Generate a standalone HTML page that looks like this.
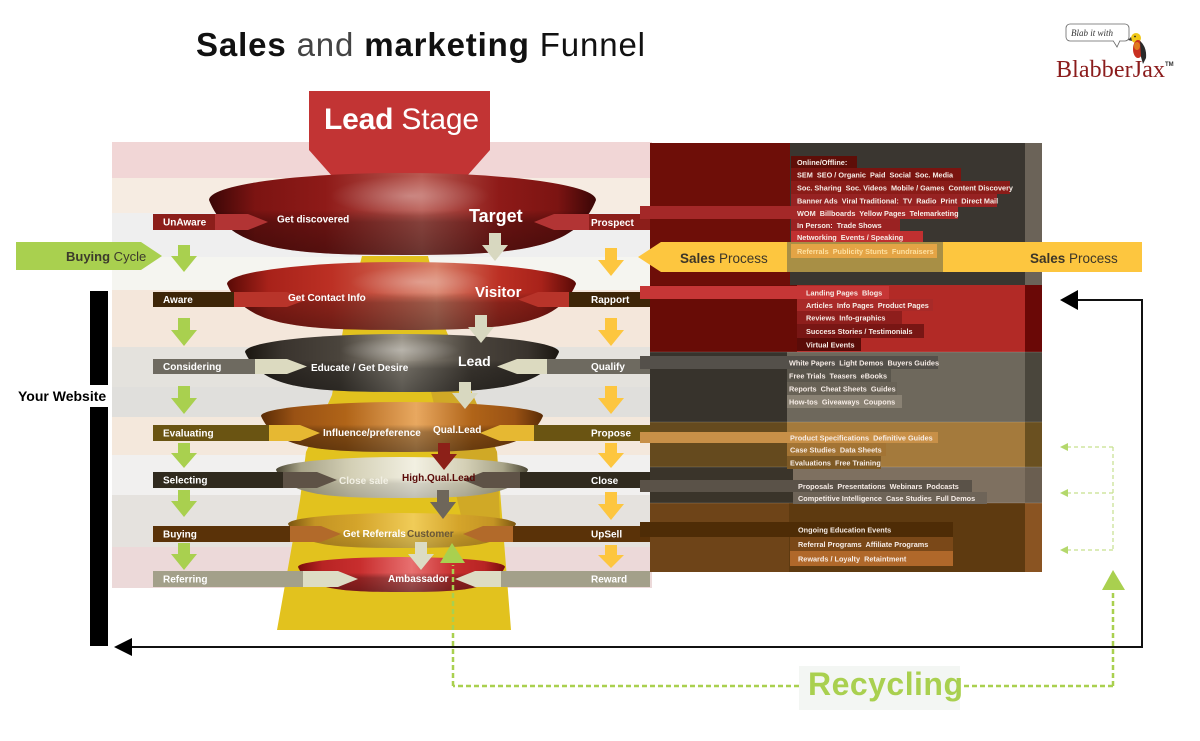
<!DOCTYPE html>
<html><head><meta charset="utf-8"><title>Sales and marketing Funnel</title>
<style>
html,body{margin:0;padding:0;background:#fff;}
svg{display:block;}
text{font-family:"Liberation Sans",Arial,sans-serif;}
.lb{font-size:10px;font-weight:bold;fill:#fff;}
.rp{font-size:7.3px;font-weight:bold;fill:#f6ece6;white-space:pre;}
</style></head><body>
<svg width="1200" height="741" viewBox="0 0 1200 741" xmlns="http://www.w3.org/2000/svg">
<defs>
<linearGradient id="g1" x1="0" x2="1" y1="0" y2="0"><stop offset="0" stop-color="#3a0606"/><stop offset="0.12" stop-color="#7c1412"/><stop offset="0.3" stop-color="#8e1a18"/><stop offset="0.55" stop-color="#b85a52"/><stop offset="0.75" stop-color="#8e1a18"/><stop offset="0.9" stop-color="#7c1412"/><stop offset="1" stop-color="#3a0606"/></linearGradient>
<linearGradient id="g2" x1="0" x2="1" y1="0" y2="0"><stop offset="0" stop-color="#5a0a06"/><stop offset="0.12" stop-color="#a8221a"/><stop offset="0.3" stop-color="#bc3024"/><stop offset="0.6" stop-color="#d88068"/><stop offset="0.78" stop-color="#bc3024"/><stop offset="0.9" stop-color="#a8221a"/><stop offset="1" stop-color="#5a0a06"/></linearGradient>
<linearGradient id="g3" x1="0" x2="1" y1="0" y2="0"><stop offset="0" stop-color="#1a1610"/><stop offset="0.12" stop-color="#3a342e"/><stop offset="0.3" stop-color="#4a443c"/><stop offset="0.5" stop-color="#9a9488"/><stop offset="0.72" stop-color="#4a443c"/><stop offset="0.9" stop-color="#3a342e"/><stop offset="1" stop-color="#1a1610"/></linearGradient>
<linearGradient id="g4" x1="0" x2="1" y1="0" y2="0"><stop offset="0" stop-color="#5a2c06"/><stop offset="0.12" stop-color="#9a5214"/><stop offset="0.3" stop-color="#b06418"/><stop offset="0.55" stop-color="#e8a860"/><stop offset="0.75" stop-color="#b06418"/><stop offset="0.9" stop-color="#9a5214"/><stop offset="1" stop-color="#5a2c06"/></linearGradient>
<linearGradient id="g5" x1="0" x2="1" y1="0" y2="0"><stop offset="0" stop-color="#4a4634"/><stop offset="0.1" stop-color="#a8a488"/><stop offset="0.3" stop-color="#d4d0b6"/><stop offset="0.55" stop-color="#f2f0e2"/><stop offset="0.75" stop-color="#d4d0b6"/><stop offset="0.9" stop-color="#a8a488"/><stop offset="1" stop-color="#4a4634"/></linearGradient>
<linearGradient id="g6" x1="0" x2="1" y1="0" y2="0"><stop offset="0" stop-color="#7a5410"/><stop offset="0.12" stop-color="#c49424"/><stop offset="0.3" stop-color="#d4a42a"/><stop offset="0.55" stop-color="#f0cc58"/><stop offset="0.75" stop-color="#d4a42a"/><stop offset="0.9" stop-color="#c49424"/><stop offset="1" stop-color="#7a5410"/></linearGradient>
<linearGradient id="g7" x1="0" x2="1" y1="0" y2="0"><stop offset="0" stop-color="#7a0c0c"/><stop offset="0.12" stop-color="#b82424"/><stop offset="0.3" stop-color="#c82e2e"/><stop offset="0.55" stop-color="#e87070"/><stop offset="0.75" stop-color="#c82e2e"/><stop offset="0.9" stop-color="#b82424"/><stop offset="1" stop-color="#7a0c0c"/></linearGradient>
<linearGradient id="sh" x1="0" y1="0" x2="0" y2="1"><stop offset="0" stop-color="#000" stop-opacity="0"/><stop offset="0.45" stop-color="#000" stop-opacity="0"/><stop offset="0.6" stop-color="#000" stop-opacity="0.28"/><stop offset="1" stop-color="#000" stop-opacity="0.42"/></linearGradient>
<linearGradient id="sh2" x1="0" y1="0" x2="0" y2="1"><stop offset="0" stop-color="#000" stop-opacity="0"/><stop offset="0.5" stop-color="#000" stop-opacity="0"/><stop offset="0.65" stop-color="#000" stop-opacity="0.12"/><stop offset="1" stop-color="#000" stop-opacity="0.2"/></linearGradient>
<radialGradient id="hl"><stop offset="0" stop-color="#fff" stop-opacity="0.3"/><stop offset="1" stop-color="#fff" stop-opacity="0"/></radialGradient>
</defs>

<rect x="0" y="0" width="1200" height="741" fill="#fff"/>

<!-- Title -->
<text x="196" y="56" font-size="33" fill="#111" textLength="449" lengthAdjust="spacing"><tspan font-weight="bold">Sales</tspan><tspan fill="#444"> and </tspan><tspan font-weight="bold">marketing</tspan> Funnel</text>

<!-- Logo -->
<rect x="1066" y="24" width="63" height="17" rx="4" fill="#fff" stroke="#666" stroke-width="0.8"/>
<path d="M1113,40.6 L1117,47 L1120,40.6" fill="#fff" stroke="#666" stroke-width="0.8"/>
<rect x="1113.5" y="39.5" width="6" height="1.5" fill="#fff"/>
<text x="1071" y="36" font-size="9" style="font-family:'Liberation Serif',serif;font-style:italic" fill="#333">Blab it with</text>
<ellipse cx="1136" cy="38" rx="5" ry="5" fill="#f0c818"/>
<path d="M1131,37 L1128,40 L1132,41 Z" fill="#333"/>
<circle cx="1135" cy="36.5" r="0.9" fill="#222"/>
<ellipse cx="1138" cy="49" rx="5" ry="9" fill="#c83020"/>
<path d="M1140,41 Q1147,47 1146,58 L1143,64 L1141,57 Z" fill="#2a2a2a"/>
<ellipse cx="1137" cy="46" rx="3" ry="4" fill="#e07a20"/>
<text x="1056" y="77" font-size="24" style="font-family:'Liberation Serif',serif" fill="#8b1c1c" textLength="109" lengthAdjust="spacing">BlabberJax</text>
<text x="1165" y="66" font-size="6" font-weight="bold" fill="#333">TM</text>

<!-- Left panel bands -->
<rect x="112" y="142" width="540" height="36" fill="#f1d6d6"/>
<rect x="112" y="178" width="540" height="35" fill="#f6ece2"/>
<rect x="112" y="213" width="540" height="44" fill="#efefef"/>
<rect x="112" y="257" width="540" height="33" fill="#f5f5f0"/>
<rect x="112" y="290" width="540" height="57" fill="#f4e7db"/>
<rect x="112" y="347" width="540" height="40" fill="#e4e2dd"/>
<rect x="112" y="387" width="540" height="30" fill="#e0dfdc"/>
<rect x="112" y="417" width="540" height="38" fill="#f4e8dc"/>
<rect x="112" y="455" width="540" height="40" fill="#f1f0ef"/>
<rect x="112" y="495" width="540" height="52" fill="#e5e2de"/>
<rect x="112" y="547" width="540" height="41" fill="#ecd9d9"/>

<!-- Right panel -->
<rect x="650" y="143" width="140" height="142" fill="#6e0e08"/>
<rect x="790" y="143" width="235" height="142" fill="#3a3630"/>
<rect x="1025" y="143" width="17" height="142" fill="#6b6358"/>
<rect x="650" y="285" width="147" height="67" fill="#680c06"/>
<rect x="797" y="285" width="228" height="67" fill="#b22a26"/>
<rect x="1025" y="285" width="17" height="67" fill="#6a0806"/>
<rect x="650" y="352" width="137" height="70" fill="#37332c"/>
<rect x="787" y="352" width="238" height="70" fill="#6e685c"/>
<rect x="1025" y="352" width="17" height="70" fill="#4a463c"/>
<rect x="650" y="422" width="137" height="45" fill="#654a1e"/>
<rect x="787" y="422" width="238" height="45" fill="#a47a3c"/>
<rect x="1025" y="422" width="17" height="45" fill="#6a5020"/>
<rect x="650" y="467" width="143" height="36" fill="#3a342a"/>
<rect x="793" y="467" width="232" height="36" fill="#7e7060"/>
<rect x="1025" y="467" width="17" height="36" fill="#6a5e50"/>
<rect x="650" y="503" width="139" height="69" fill="#6e4418"/>
<rect x="789" y="503" width="236" height="69" fill="#5e3a10"/>
<rect x="1025" y="503" width="17" height="69" fill="#8a5422"/>
<g fill="#fff" fill-opacity="0.15">
<rect x="650" y="351.5" width="392" height="1"/>
<rect x="650" y="421.5" width="392" height="1"/>
<rect x="650" y="466.5" width="392" height="1"/>
<rect x="650" y="502.5" width="392" height="1"/>
</g>

<!-- Lead Stage -->
<polygon points="309,91 490,91 490,150 467,176 332,176 309,150" fill="#c23434"/>
<text x="324" y="129" font-size="30" fill="#fff" textLength="155" lengthAdjust="spacing"><tspan font-weight="bold">Lead</tspan> Stage</text>

<!-- Yellow funnel column -->
<polygon points="362,256 428,256 446,330 473,395 497,452 511,630 277,630 300,500 306,452 332,395 343,330" fill="#e2c21e"/>
<polygon points="430,388 473,395 497,452 500,520 462,520 446,452" fill="#c9a02a" fill-opacity="0.75"/>

<!-- Discs -->
<g>
<path d="M209,200 A193.5,27 0 0 1 596,200 C576.6,249.5 518.6,255 402.5,255 C286.4,255 228.4,249.5 209,200 Z" fill="url(#g1)"/>
<path d="M209,200 A193.5,27 0 0 1 596,200 C576.6,249.5 518.6,255 402.5,255 C286.4,255 228.4,249.5 209,200 Z" fill="url(#sh)"/>
<ellipse cx="410" cy="196" rx="80" ry="20" fill="url(#hl)"/>

<path d="M227,284 A174.5,22 0 0 1 576,284 C558.6,325.4 506.2,330 401.5,330 C296.8,330 244.5,325.4 227,284 Z" fill="url(#g2)"/>
<path d="M227,284 A174.5,22 0 0 1 576,284 C558.6,325.4 506.2,330 401.5,330 C296.8,330 244.5,325.4 227,284 Z" fill="url(#sh)"/>
<ellipse cx="420" cy="282" rx="70" ry="16" fill="url(#hl)"/>

<path d="M245,352 A157,18 0 0 1 559,352 C543.3,388 496.2,392 402,392 C307.8,392 260.7,388 245,352 Z" fill="url(#g3)"/>
<path d="M245,352 A157,18 0 0 1 559,352 C543.3,388 496.2,392 402,392 C307.8,392 260.7,388 245,352 Z" fill="url(#sh)"/>
<ellipse cx="400" cy="350" rx="60" ry="12" fill="url(#hl)"/>

<path d="M261,416 A141,14 0 0 1 543,416 C528.9,448.4 486.6,452 402,452 C317.4,452 275.1,448.4 261,416 Z" fill="url(#g4)"/>
<path d="M261,416 A141,14 0 0 1 543,416 C528.9,448.4 486.6,452 402,452 C317.4,452 275.1,448.4 261,416 Z" fill="url(#sh)"/>

<path d="M276,470 A126,13 0 0 1 528,470 C515.4,495.2 477.6,498 402,498 C326.4,498 288.6,495.2 276,470 Z" fill="url(#g5)"/>
<path d="M276,470 A126,13 0 0 1 528,470 C515.4,495.2 477.6,498 402,498 C326.4,498 288.6,495.2 276,470 Z" fill="url(#sh2)"/>

<path d="M288,524 A114,11 0 0 1 516,524 C504.6,545.6 470.4,548 402,548 C333.6,548 299.4,545.6 288,524 Z" fill="url(#g6)"/>
<path d="M288,524 A114,11 0 0 1 516,524 C504.6,545.6 470.4,548 402,548 C333.6,548 299.4,545.6 288,524 Z" fill="url(#sh2)"/>

<path d="M298,567 A103.5,10 0 0 1 505,567 C494.7,589.5 463.6,592 401.5,592 C339.4,592 308.4,589.5 298,567 Z" fill="url(#g7)"/>
<path d="M298,567 A103.5,10 0 0 1 505,567 C494.7,589.5 463.6,592 401.5,592 C339.4,592 308.4,589.5 298,567 Z" fill="url(#sh)"/>
</g>

<!-- Label strips and arrows -->
<g>
<rect x="153" y="214" width="62" height="16" fill="#8c1e1a"/>
<polygon points="215,214 248,214 268,222 248,230 215,230" fill="#b23434"/>
<polygon points="534,222 554,214 589,214 589,230 554,230" fill="#b23434"/>
<rect x="589" y="214" width="61" height="16" fill="#8c1e1a"/>

<rect x="153" y="292" width="81" height="15" fill="#3e2608"/>
<polygon points="234,292 287,292 307,299.5 287,307 234,307" fill="#b8342a"/>
<polygon points="518,299.5 538,292 569,292 569,307 538,307" fill="#b8342a"/>
<rect x="569" y="292" width="81" height="15" fill="#3e2608"/>

<rect x="153" y="359" width="102" height="15" fill="#6e6a60"/>
<polygon points="255,359 287,359 307,366.5 287,374 255,374" fill="#dcdac0"/>
<polygon points="497,366.5 517,359 547,359 547,374 517,374" fill="#dcdac0"/>
<rect x="547" y="359" width="103" height="15" fill="#6e6a60"/>

<rect x="153" y="425" width="116" height="16" fill="#6a5412"/>
<polygon points="269,425 300,425 320,433 300,441 269,441" fill="#e6b832"/>
<polygon points="480,433 500,425 534,425 534,441 500,441" fill="#e6b832"/>
<rect x="534" y="425" width="116" height="16" fill="#6a5412"/>

<rect x="153" y="472" width="130" height="16" fill="#302a1e"/>
<polygon points="283,472 317,472 337,480 317,488 283,488" fill="#5e5246"/>
<polygon points="463,480 483,472 520,472 520,488 483,488" fill="#5e5246"/>
<rect x="520" y="472" width="130" height="16" fill="#302a1e"/>

<rect x="153" y="526" width="137" height="16" fill="#5a3208"/>
<polygon points="290,526 321,526 341,534 321,542 290,542" fill="#b26a2a"/>
<polygon points="463,534 483,526 513,526 513,542 483,542" fill="#b26a2a"/>
<rect x="513" y="526" width="137" height="16" fill="#5a3208"/>

<rect x="153" y="571" width="150" height="16" fill="#a3a08a"/>
<polygon points="303,571 338,571 358,579 338,587 303,587" fill="#dddcc4"/>
<polygon points="455,579 475,571 501,571 501,587 475,587" fill="#dddcc4"/>
<rect x="501" y="571" width="149" height="16" fill="#a3a08a"/>
</g>

<!-- Right panel connector strips and text boxes -->
<g>
<rect x="791" y="156" width="66" height="12" fill="#5e0e08"/>
<rect x="791" y="168" width="170" height="13" fill="#7a1410"/>
<rect x="791" y="181" width="219" height="13" fill="#8a1c18"/>
<rect x="791" y="194" width="206" height="13" fill="#962222"/>
<rect x="640" y="206" width="318" height="13" fill="#a42828"/>
<rect x="791" y="219" width="109" height="12" fill="#9a2222"/>
<rect x="791" y="231" width="132" height="12" fill="#c03030"/>

<rect x="640" y="286" width="249" height="13" fill="#c63636"/>
<rect x="797" y="299" width="136" height="12" fill="#a82a28"/>
<rect x="797" y="311" width="105" height="13" fill="#8e1e1c"/>
<rect x="797" y="324" width="127" height="14" fill="#781614"/>
<rect x="797" y="338" width="64" height="13" fill="#5a0c08"/>

<rect x="640" y="356" width="298" height="13" fill="#54504a"/>
<rect x="787" y="369" width="104" height="13" fill="#5a564c"/>
<rect x="787" y="382" width="110" height="13" fill="#686256"/>
<rect x="787" y="395" width="115" height="13" fill="#8a8274"/>

<rect x="640" y="432" width="298" height="11" fill="#c89048"/>
<rect x="787" y="443" width="99" height="13" fill="#a37434"/>
<rect x="787" y="456" width="94" height="13" fill="#7e5a26"/>

<rect x="640" y="480" width="332" height="12" fill="#5a5248"/>
<rect x="793" y="492" width="194" height="12" fill="#6e6458"/>

<rect x="640" y="522" width="313" height="15" fill="#4e2c06"/>
<rect x="790" y="537" width="163" height="14" fill="#7a4818"/>
<rect x="790" y="551" width="163" height="15" fill="#b0682a"/>
</g>

<!-- Sales Process arrow -->
<polygon points="638,257 661,242 1142,242 1142,272 661,272" fill="#fdc63f"/>
<rect x="787" y="242" width="156" height="30" fill="#a88f45"/>
<rect x="791" y="244" width="146" height="14" fill="#e4a445"/>
<text x="680" y="263" font-size="13.5" fill="#3c3628"><tspan font-weight="bold">Sales</tspan> Process</text>
<text x="1030" y="263" font-size="13.5" fill="#3c3628"><tspan font-weight="bold">Sales</tspan> Process</text>

<!-- Buying Cycle arrow -->
<polygon points="16,242 141,242 162,256 141,270 16,270" fill="#a9d04f"/>
<text x="66" y="261" font-size="13" fill="#3c3a2c"><tspan font-weight="bold">Buying</tspan> Cycle</text>

<!-- Right panel texts -->
<g class="rp">
<text class="rp" x="797" y="165">Online/Offline:</text>
<text class="rp" x="797" y="177.5">SEM  SEO / Organic  Paid  Social  Soc. Media</text>
<text class="rp" x="797" y="190.5">Soc. Sharing  Soc. Videos  Mobile / Games  Content Discovery</text>
<text class="rp" x="797" y="203.5">Banner Ads  Viral Traditional:  TV  Radio  Print  Direct Mail</text>
<text class="rp" x="797" y="216">WOM  Billboards  Yellow Pages  Telemarketing</text>
<text class="rp" x="797" y="228">In Person:  Trade Shows</text>
<text class="rp" x="797" y="240">Networking  Events / Speaking</text>
<text class="rp" x="797" y="254" style="fill:#fde0a0">Referrals  Publicity Stunts  Fundraisers</text>

<text class="rp" x="806" y="295.5">Landing Pages  Blogs</text>
<text class="rp" x="806" y="308">Articles  Info Pages  Product Pages</text>
<text class="rp" x="806" y="320.5">Reviews  Info-graphics</text>
<text class="rp" x="806" y="334">Success Stories / Testimonials</text>
<text class="rp" x="806" y="347.5">Virtual Events</text>

<text class="rp" x="789" y="365.5">White Papers  Light Demos  Buyers Guides</text>
<text class="rp" x="789" y="378.5">Free Trials  Teasers  eBooks</text>
<text class="rp" x="789" y="391.5">Reports  Cheat Sheets  Guides</text>
<text class="rp" x="789" y="404.5">How-tos  Giveaways  Coupons</text>

<text class="rp" x="790" y="440.5">Product Specifications  Definitive Guides</text>
<text class="rp" x="790" y="452.5">Case Studies  Data Sheets</text>
<text class="rp" x="790" y="465.5">Evaluations  Free Training</text>

<text class="rp" x="798" y="489">Proposals  Presentations  Webinars  Podcasts</text>
<text class="rp" x="798" y="501">Competitive Intelligence  Case Studies  Full Demos</text>

<text class="rp" x="798" y="532.5">Ongoing Education Events</text>
<text class="rp" x="798" y="547">Referral Programs  Affiliate Programs</text>
<text class="rp" x="798" y="561.5">Rewards / Loyalty  Retaintment</text>
</g>

<!-- Down arrows: green (left) -->
<g fill="#a9d04f">
<polygon points="178,245 190,245 190,256 197,256 184,272 171,256 178,256"/>
<polygon points="178,318 190,318 190,330 197,330 184,346 171,330 178,330"/>
<polygon points="178,386 190,386 190,398 197,398 184,414 171,398 178,398"/>
<polygon points="178,443 190,443 190,453 197,453 184,468 171,453 178,453"/>
<polygon points="178,490 190,490 190,501 197,501 184,517 171,501 178,501"/>
<polygon points="178,543 190,543 190,554 197,554 184,570 171,554 178,554"/>
</g>
<!-- Down arrows: yellow (right) -->
<g fill="#fdc63f">
<polygon points="605,248 617,248 617,260 624,260 611,276 598,260 605,260"/>
<polygon points="605,318 617,318 617,330 624,330 611,346 598,330 605,330"/>
<polygon points="605,386 617,386 617,398 624,398 611,414 598,398 605,398"/>
<polygon points="605,443 617,443 617,453 624,453 611,468 598,453 605,453"/>
<polygon points="605,492 617,492 617,504 624,504 611,520 598,504 605,504"/>
<polygon points="605,545 617,545 617,555 624,555 611,568 598,555 605,555"/>
</g>
<!-- Funnel center arrows -->
<polygon points="489,233 501,233 501,245 508,245 495,261 482,245 489,245" fill="#d8d8c0"/>
<polygon points="475,315 487,315 487,327 494,327 481,343 468,327 475,327" fill="#d8d8c0"/>
<polygon points="459,382 471,382 471,393 478,393 465,409 452,393 459,393" fill="#d8d8c0"/>
<polygon points="438,443 450,443 450,454 457,454 444,470 431,454 438,454" fill="#8c2018"/>
<polygon points="437,490 449,490 449,502 456,502 443,519 430,502 437,502" fill="#6e665a"/>
<polygon points="415,542 427,542 427,554 434,554 421,570 408,554 415,554" fill="#dcdcc4"/>
<polygon points="452,543 440,563 465,563" fill="#a9d04f"/>

<!-- Strip labels -->
<g class="lb">
<text class="lb" x="163" y="225.5">UnAware</text>
<text class="lb" x="591" y="226">Prospect</text>
<text class="lb" x="163" y="303">Aware</text>
<text class="lb" x="591" y="303">Rapport</text>
<text class="lb" x="163" y="370">Considering</text>
<text class="lb" x="591" y="370">Qualify</text>
<text class="lb" x="163" y="436.5">Evaluating</text>
<text class="lb" x="591" y="436.5">Propose</text>
<text class="lb" x="163" y="483.5">Selecting</text>
<text class="lb" x="591" y="484">Close</text>
<text class="lb" x="163" y="537.5">Buying</text>
<text class="lb" x="591" y="537.5">UpSell</text>
<text class="lb" x="163" y="582.5">Referring</text>
<text class="lb" x="591" y="582.5">Reward</text>
</g>

<!-- Disc texts -->
<text class="lb" x="277" y="222.5">Get discovered</text>
<text x="469" y="222" font-size="18" font-weight="bold" fill="#fff">Target</text>
<text class="lb" x="288" y="301">Get Contact Info</text>
<text x="475" y="297" font-size="15" font-weight="bold" fill="#fff">Visitor</text>
<text class="lb" x="311" y="371">Educate / Get Desire</text>
<text x="458" y="366" font-size="14" font-weight="bold" fill="#fff">Lead</text>
<text class="lb" x="323" y="436">Influence/preference</text>
<text x="433" y="433" font-size="10" font-weight="bold" fill="#fff">Qual.Lead</text>
<text x="339" y="484" font-size="10" font-weight="bold" fill="#f2f0e4">Close sale</text>
<text x="402" y="481" font-size="10" font-weight="bold" fill="#5a0a08">High.Qual.Lead</text>
<text class="lb" x="343" y="537">Get Referrals</text>
<text x="407" y="537" font-size="10" font-weight="bold" fill="#6a5838">Customer</text>
<text class="lb" x="388" y="582">Ambassador</text>

<!-- Your Website bar -->
<rect x="90" y="291" width="18" height="94" fill="#000"/>
<rect x="90" y="407" width="18" height="239" fill="#000"/>
<text x="18" y="401" font-size="14" font-weight="bold" fill="#000">Your Website</text>

<!-- Black return line -->
<polyline points="130,647 1142,647 1142,300 1076,300" fill="none" stroke="#111" stroke-width="2"/>
<polygon points="1060,300 1078,290 1078,310" fill="#000"/>
<polygon points="114,647 132,638 132,656" fill="#000"/>

<!-- Light green dashed arrows -->
<g stroke="#c6e08e" stroke-width="1.2" stroke-dasharray="4 3" fill="none">
<line x1="1113" y1="447" x2="1113" y2="550"/>
<line x1="1113" y1="447" x2="1068" y2="447"/>
<line x1="1113" y1="493" x2="1068" y2="493"/>
<line x1="1113" y1="550" x2="1068" y2="550"/>
</g>
<g fill="#b4d86c">
<polygon points="1060,447 1068,443 1068,451"/>
<polygon points="1060,493 1068,489 1068,497"/>
<polygon points="1060,550 1068,546 1068,554"/>
</g>

<!-- Recycling -->
<polygon points="1113,570 1102,590 1125,590" fill="#a9d04f"/>
<g stroke="#a9d04f" stroke-width="2.5" stroke-dasharray="5 3" fill="none">
<line x1="1113" y1="593" x2="1113" y2="686"/>
<line x1="1113" y1="686" x2="962" y2="686"/>
<line x1="799" y1="686" x2="453" y2="686"/>
<line x1="453" y1="686" x2="453" y2="565"/>
</g>
<rect x="799" y="666" width="161" height="44" fill="#f3f6f3"/>
<text x="808" y="695" font-size="32" font-weight="bold" fill="#a9d04f" textLength="155" lengthAdjust="spacing">Recycling</text>
</svg>
</body></html>
